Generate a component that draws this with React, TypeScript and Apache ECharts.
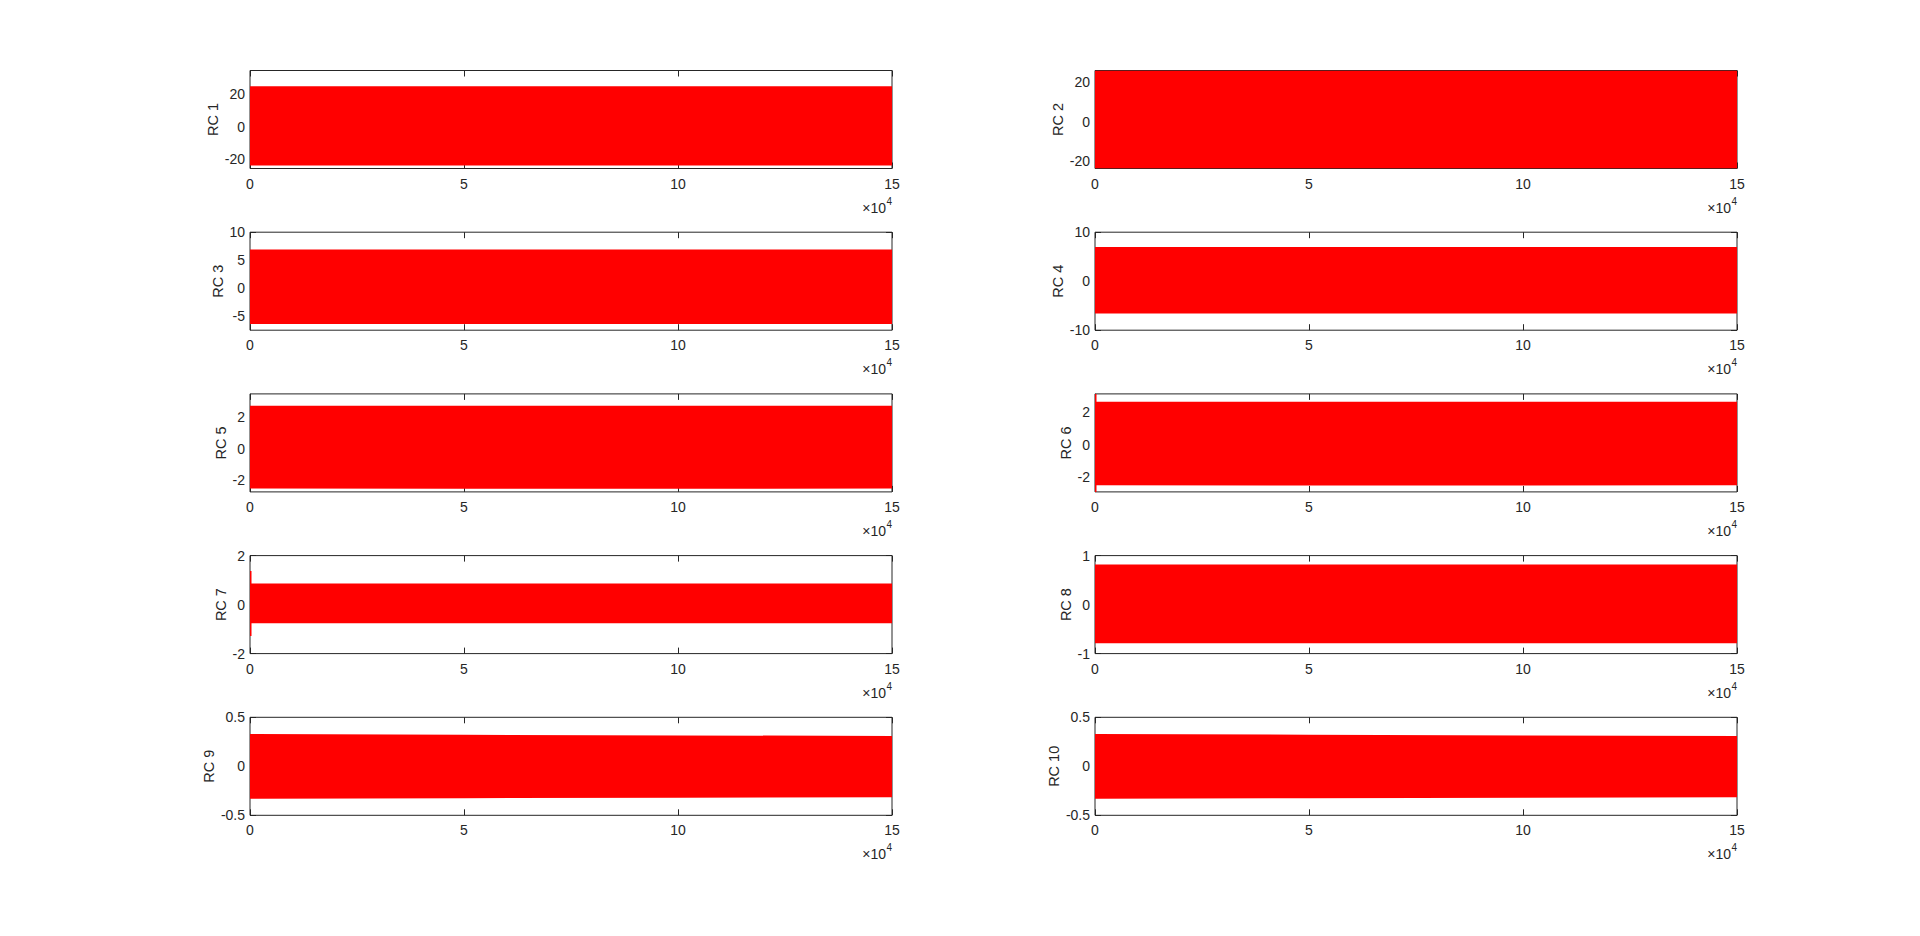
import React, { useEffect, useRef } from "react";
import * as echarts from "echarts";

// ---- data ----
const rcNames = ["RC 1", "RC 2", "RC 3", "RC 4", "RC 5", "RC 6", "RC 7", "RC 8", "RC 9", "RC 10"];
// sample positions of the envelope of each (dense) oscillation
const envX = [0, 50000, 100000, 150000];
const rc1Upper = [24.8, 24.8, 24.8, 24.8];
const rc1Lower = [-23.8, -23.8, -23.8, -23.8];
const rc2Upper = [25.8, 25.8, 25.8, 25.8];
const rc2Lower = [-23.6, -23.6, -23.6, -23.6];
const rc3Upper = [6.9, 6.9, 6.9, 6.9];
const rc3Lower = [-6.4, -6.4, -6.4, -6.4];
const rc4Upper = [7.0, 7.0, 7.0, 7.0];
const rc4Lower = [-6.6, -6.6, -6.6, -6.6];
const rc5Upper = [2.69, 2.7, 2.7, 2.69];
const rc5Lower = [-2.52, -2.53, -2.53, -2.52];
const rc6Upper = [2.63, 2.64, 2.64, 2.63];
const rc6Lower = [-2.51, -2.52, -2.52, -2.51];
const rc7Upper = [0.86, 0.86, 0.86, 0.86];
const rc7Lower = [-0.76, -0.76, -0.76, -0.76];
const rc8Upper = [0.82, 0.82, 0.82, 0.82];
const rc8Lower = [-0.79, -0.79, -0.79, -0.79];
const rc9Upper = [0.33, 0.322, 0.315, 0.31];
const rc9Lower = [-0.33, -0.325, -0.32, -0.315];
const rc10Upper = [0.33, 0.322, 0.315, 0.31];
const rc10Lower = [-0.33, -0.325, -0.32, -0.315];
// start-up transient at x = 0 (only where visible)
const spikeHigh: (number | null)[] = [null, null, null, null, null, 3.12, 1.37, null, null, null];
const spikeLow: (number | null)[] = [null, null, null, null, null, -2.92, -1.28, null, null, null];
// axis limits and ticks
const yMin = [-25.6, -23.6, -7.5, -10, -2.73, -2.92, -2, -1, -0.5, -0.5];
const yMax = [34.4, 25.8, 10, 10, 3.44, 3.12, 2, 1, 0.5, 0.5];
const yTicks = [
  [-20, 0, 20],
  [-20, 0, 20],
  [-5, 0, 5, 10],
  [-10, 0, 10],
  [-2, 0, 2],
  [-2, 0, 2],
  [-2, 0, 2],
  [-1, 0, 1],
  [-0.5, 0, 0.5],
  [-0.5, 0, 0.5],
];
const xMin = 0;
const xMax = 150000;
const xInterval = 50000;
const xScaleExp = 4;

const uppers = [rc1Upper, rc2Upper, rc3Upper, rc4Upper, rc5Upper, rc6Upper, rc7Upper, rc8Upper, rc9Upper, rc10Upper];
const lowers = [rc1Lower, rc2Lower, rc3Lower, rc4Lower, rc5Lower, rc6Lower, rc7Lower, rc8Lower, rc9Lower, rc10Lower];

// ---- layout ----
const FONT = "'Liberation Sans', Arial, Helvetica, sans-serif";
const INK = "#262626";
const RED = "#ff0000";
const colLeft = [250, 1095];
const colWidth = 642;
const rowTop0 = 70.5;
const rowStep = 161.7;
const rowHeight = 98;
const nameCenterDist = [35.5, 35.7, 31, 36, 28, 29, 28, 29, 40, 40];

export default function App() {
  const ref = useRef<HTMLDivElement>(null);

  useEffect(() => {
    document.body.style.margin = "0";
    document.body.style.overflow = "hidden";
    if (!ref.current) return;
    const chart = echarts.init(ref.current, null, { renderer: "svg" });

    const grid: any[] = [];
    const xAxis: any[] = [];
    const yAxis: any[] = [];
    const series: any[] = [];
    const graphic: any[] = [];

    rcNames.forEach((name, i) => {
      const col = i % 2;
      const row = Math.floor(i / 2);
      const left = colLeft[col];
      const top = rowTop0 + row * rowStep;
      grid.push({
        left,
        top,
        width: colWidth,
        height: rowHeight,
        show: true,
        borderColor: INK,
        borderWidth: 1,
        backgroundColor: "transparent",
      });
      const xBase = {
        type: "value",
        gridIndex: i,
        min: xMin,
        max: xMax,
        interval: xInterval,
        splitLine: { show: false },
        axisLine: { show: false, onZero: false },
        axisTick: { show: true, inside: true, length: 6, lineStyle: { color: INK, width: 1 } },
      };
      xAxis.push({
        ...xBase,
        position: "bottom",
        axisLabel: {
          show: true,
          margin: 8,
          color: INK,
          fontFamily: FONT,
          fontSize: 14,
          showMinLabel: true,
          showMaxLabel: true,
          formatter: (v: number) => String(v / Math.pow(10, xScaleExp)),
        },
      });
      xAxis.push({ ...xBase, position: "top", axisLabel: { show: false } });

      const yBase = {
        type: "value",
        gridIndex: i,
        min: yMin[i],
        max: yMax[i],
        splitLine: { show: false },
        axisLine: { show: false, onZero: false },
        axisTick: {
          show: true,
          inside: true,
          length: 6,
          customValues: yTicks[i],
          lineStyle: { color: INK, width: 1 },
        },
      };
      yAxis.push({
        ...yBase,
        position: "left",
        name,
        nameLocation: "middle",
        nameGap: nameCenterDist[i] - 7.5,
        nameTextStyle: { color: INK, fontFamily: FONT, fontSize: 14.5 },
        axisLabel: {
          show: true,
          margin: 5,
          color: INK,
          fontFamily: FONT,
          fontSize: 14,
          customValues: yTicks[i],
        },
      });
      yAxis.push({ ...yBase, position: "right", axisLabel: { show: false } });

      const up = uppers[i];
      const lo = lowers[i];
      series.push({
        type: "custom",
        xAxisIndex: 2 * i,
        yAxisIndex: 2 * i,
        clip: true,
        z: 3,
        data: envX.map((x, k) => [x, lo[k], up[k]]),
        encode: { x: 0, y: [1, 2] },
        renderItem: (params: any, api: any) => {
          if (params.dataIndex !== 0) return null;
          const pts: number[][] = [];
          for (let k = 0; k < envX.length; k++) pts.push(api.coord([envX[k], up[k]]));
          for (let k = envX.length - 1; k >= 0; k--) pts.push(api.coord([envX[k], lo[k]]));
          return { type: "polygon", shape: { points: pts }, style: { fill: RED } };
        },
      });
      const sh = spikeHigh[i];
      const sl = spikeLow[i];
      if (sh !== null && sl !== null) {
        series.push({
          type: "custom",
          xAxisIndex: 2 * i,
          yAxisIndex: 2 * i,
          clip: false,
          z: 3,
          data: [[xMin, sl, sh]],
          encode: { x: 0, y: [1, 2] },
          renderItem: (_params: any, api: any) => {
            const a = api.coord([api.value(0), api.value(1)]);
            const b = api.coord([api.value(0), api.value(2)]);
            return {
              type: "line",
              shape: { x1: a[0] + 0.75, y1: a[1], x2: b[0] + 0.75, y2: b[1] },
              style: { stroke: RED, lineWidth: 1.5 },
            };
          },
        });
      }

      const right = left + colWidth;
      const bottom = top + rowHeight;
      graphic.push({
        type: "text",
        x: right - 6,
        y: bottom + 39,
        style: {
          text: "×10",
          fill: INK,
          font: `14px ${FONT}`,
          textAlign: "right",
          textVerticalAlign: "middle",
        },
      });
      graphic.push({
        type: "text",
        x: right - 5.5,
        y: bottom + 27.5,
        style: {
          text: String(xScaleExp),
          fill: INK,
          font: `10px ${FONT}`,
          textAlign: "left",
          textVerticalAlign: "top",
        },
      });
    });

    chart.setOption({
      animation: false,
      backgroundColor: "#ffffff",
      grid,
      xAxis,
      yAxis,
      series,
      graphic,
    });
    return () => chart.dispose();
  }, []);

  return <div ref={ref} style={{ width: 1920, height: 936, background: "#fff" }} />;
}
